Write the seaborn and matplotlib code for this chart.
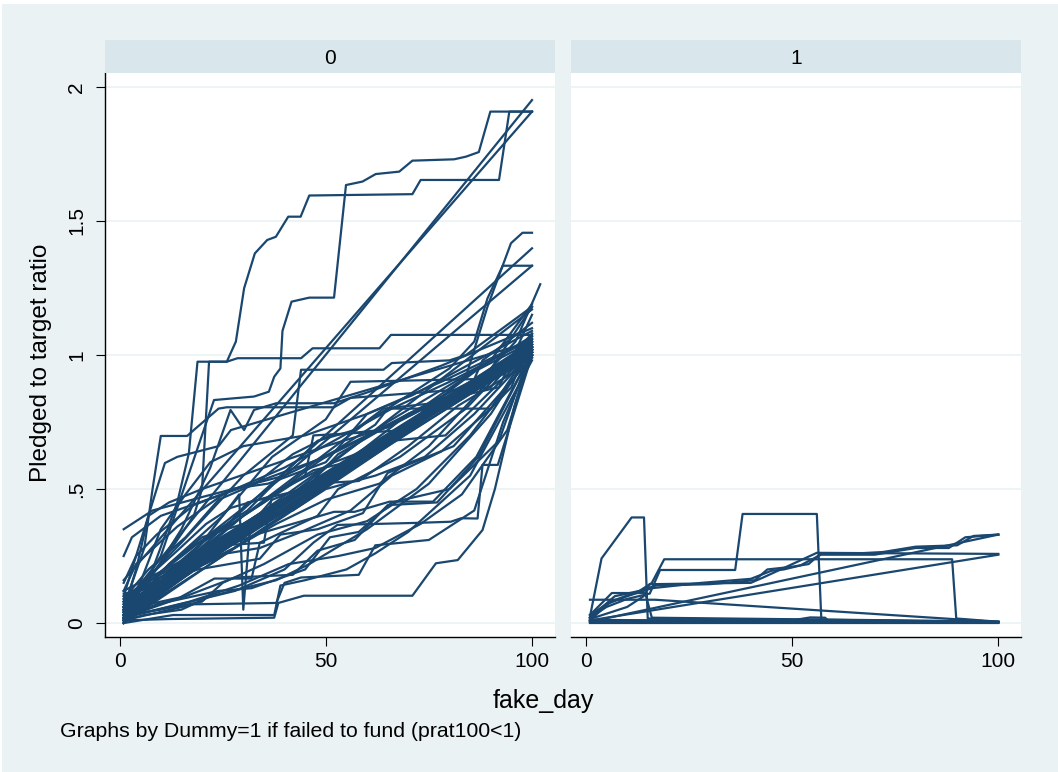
import seaborn as sns
import pandas as pd
import matplotlib.pyplot as plt
from matplotlib.patches import Rectangle

# pledged-to-target ratio paths as (fake_day, ratio)
funded_band = [
    ([1, 25, 50, 75, 100], [0.03, 0.27, 0.52, 0.77, 1.02]),
    ([1, 20, 45, 70, 100], [0.05, 0.25, 0.49, 0.74, 1.03]),
    ([1, 30, 60, 100], [0.02, 0.32, 0.63, 1.01]),
    ([1, 15, 40, 65, 90, 100], [0.06, 0.21, 0.45, 0.70, 0.94, 1.04]),
    ([1, 35, 55, 80, 100], [0.04, 0.38, 0.57, 0.82, 1.00]),
    ([1, 10, 33, 58, 84, 100], [0.08, 0.17, 0.39, 0.63, 0.88, 1.03]),
    ([1, 22, 48, 73, 100], [0.01, 0.24, 0.50, 0.75, 1.01]),
    ([1, 28, 52, 78, 100], [0.07, 0.33, 0.56, 0.80, 1.04]),
    ([1, 18, 42, 68, 92, 100], [0.03, 0.21, 0.44, 0.70, 0.94, 1.02]),
    ([1, 38, 62, 100], [0.05, 0.41, 0.65, 1.02]),
    ([1, 12, 36, 61, 86, 100], [0.10, 0.20, 0.42, 0.66, 0.90, 1.05]),
    ([1, 26, 51, 76, 100], [0.02, 0.28, 0.52, 0.78, 0.99]),
    ([1, 16, 44, 71, 100], [0.12, 0.24, 0.50, 0.76, 1.03]),
    ([1, 32, 57, 83, 100], [0.04, 0.35, 0.59, 0.85, 1.01]),
    ([1, 21, 47, 74, 100], [0.09, 0.27, 0.52, 0.78, 1.04]),
    ([1, 40, 66, 100], [0.01, 0.40, 0.67, 1.00]),
    ([1, 14, 39, 64, 89, 100], [0.06, 0.19, 0.43, 0.68, 0.92, 1.03]),
    ([1, 24, 49, 100], [0.03, 0.29, 0.54, 1.02]),
    ([1, 30, 54, 79, 100], [0.08, 0.37, 0.60, 0.84, 1.05]),
    ([1, 19, 43, 69, 100], [0.02, 0.22, 0.46, 0.72, 1.00]),
    ([1, 27, 53, 77, 100], [0.05, 0.31, 0.55, 0.79, 1.01]),
    ([1, 11, 37, 63, 88, 100], [0.04, 0.15, 0.40, 0.66, 0.91, 1.02]),
    ([1, 34, 58, 100], [0.06, 0.39, 0.62, 1.03]),
    ([1, 23, 46, 72, 100], [0.00, 0.23, 0.47, 0.73, 1.00]),
]

funded_steps = [
    ([1, 8, 14, 16.8, 18.9, 26, 28.6, 44, 46.8, 63, 65.8, 100],
     [0.02, 0.20, 0.45, 0.633, 0.975, 0.975, 0.988, 0.988, 1.025, 1.025, 1.075, 1.075]),
    ([1, 6, 8, 10, 16.4, 18, 24, 26, 52, 56, 90, 100],
     [0.06, 0.28, 0.50, 0.698, 0.698, 0.72, 0.80, 0.805, 0.805, 0.84, 0.88, 1.07]),
    ([1, 8, 15, 22, 26.9, 30.2, 32.6, 38, 52, 60, 78, 100],
     [0.04, 0.18, 0.35, 0.58, 0.795, 0.72, 0.795, 0.82, 0.82, 0.86, 0.96, 1.10]),
    ([1, 10, 20, 29, 30, 31.5, 40, 55, 70, 100],
     [0.03, 0.15, 0.30, 0.48, 0.05, 0.33, 0.45, 0.60, 0.75, 1.00]),
    ([1, 8, 20, 40, 60, 100], [0.35, 0.42, 0.47, 0.55, 0.70, 1.02]),
    ([1, 3, 10, 25, 50, 100], [0.25, 0.32, 0.40, 0.48, 0.62, 1.00]),
    ([1, 12, 37.5, 38.5, 44.7, 71, 76.7, 82, 88, 91, 95.7, 100],
     [0.01, 0.015, 0.02, 0.075, 0.102, 0.102, 0.223, 0.235, 0.347, 0.50, 0.807, 1.02]),
    ([1, 12, 28, 40, 47, 52.8, 72.6, 80.3, 82.8, 86.8, 88, 91.7, 100],
     [0.02, 0.06, 0.12, 0.20, 0.30, 0.366, 0.374, 0.378, 0.391, 0.39, 0.59, 0.59, 1.00]),
    ([1, 13, 37.5, 39, 45, 55, 62, 70, 85, 100],
     [0.00, 0.03, 0.03, 0.14, 0.16, 0.20, 0.26, 0.34, 0.55, 0.98]),
    ([1, 18, 38, 40, 44, 58, 62, 75, 86, 93, 100],
     [0.01, 0.07, 0.075, 0.15, 0.17, 0.18, 0.29, 0.31, 0.42, 0.75, 1.00]),
    ([1, 9, 24, 32, 45, 51, 58, 66, 80, 92, 100],
     [0.02, 0.07, 0.12, 0.13, 0.20, 0.32, 0.34, 0.45, 0.50, 0.68, 1.03]),
    ([1, 16, 28, 42, 48, 57, 65, 77, 87, 100],
     [0.05, 0.10, 0.17, 0.18, 0.27, 0.31, 0.44, 0.45, 0.62, 1.01]),
    ([1, 15, 30, 42, 44, 64, 66, 80, 84, 100],
     [0.08, 0.30, 0.55, 0.70, 0.945, 0.945, 0.97, 0.98, 1.00, 1.18]),
    ([1, 12, 25, 37, 50, 56, 86, 88, 100],
     [0.03, 0.22, 0.40, 0.62, 0.76, 0.90, 0.91, 0.98, 1.12]),
    ([1, 20, 35, 48, 62, 65, 90, 95, 100],
     [0.05, 0.30, 0.45, 0.60, 0.74, 0.80, 0.80, 0.88, 1.08]),
    ([1, 30, 45, 47, 70, 75, 92, 100],
     [0.02, 0.40, 0.55, 0.70, 0.72, 0.82, 0.88, 1.15]),
    ([1, 5, 9, 11, 14, 24, 27, 100],
     [0.10, 0.30, 0.50, 0.597, 0.62, 0.66, 0.72, 1.05]),
    ([1, 7, 20, 33, 52, 57, 65.5, 76, 86.5, 100],
     [0.04, 0.12, 0.25, 0.33, 0.415, 0.415, 0.453, 0.453, 0.62, 1.01]),
    ([1, 14, 23, 32, 34, 48, 53, 68, 84, 100],
     [0.02, 0.09, 0.166, 0.166, 0.30, 0.40, 0.50, 0.62, 0.80, 1.06]),
    ([1, 4, 14, 27, 36, 50, 60, 71, 83, 100],
     [0.12, 0.22, 0.36, 0.50, 0.52, 0.60, 0.78, 0.85, 0.95, 1.09]),
    ([1, 6, 15, 22, 30, 38, 46, 60, 75, 90, 100],
     [0.01, 0.03, 0.05, 0.10, 0.13, 0.16, 0.22, 0.35, 0.52, 0.78, 1.02]),
    ([1, 10, 20, 25, 35, 48, 60, 72, 85, 100],
     [0.03, 0.05, 0.08, 0.15, 0.22, 0.33, 0.38, 0.50, 0.70, 1.00]),
    ([1, 8, 18, 26, 34, 44, 56, 66, 78, 90, 100],
     [0.05, 0.12, 0.20, 0.26, 0.28, 0.34, 0.42, 0.55, 0.64, 0.80, 1.03]),
    ([1, 5, 12, 20, 32, 42, 50, 62, 74, 86, 100],
     [0.02, 0.10, 0.22, 0.32, 0.38, 0.42, 0.50, 0.55, 0.62, 0.78, 1.01]),
    ([1, 9, 17, 26, 31, 45, 53, 61, 70, 82, 100],
     [0.07, 0.18, 0.28, 0.36, 0.45, 0.50, 0.63, 0.70, 0.78, 0.86, 1.04]),
    ([1, 4, 9, 18, 28, 40, 52, 66, 80, 100],
     [0.15, 0.25, 0.33, 0.44, 0.50, 0.58, 0.68, 0.80, 0.90, 1.06]),
    ([1, 13, 22, 31, 40, 48, 57, 64, 76, 88, 100],
     [0.04, 0.18, 0.33, 0.42, 0.56, 0.68, 0.72, 0.80, 0.82, 0.96, 1.07]),
    ([1, 7, 16, 24, 33, 42, 51, 63, 73, 85, 100],
     [0.09, 0.20, 0.32, 0.46, 0.52, 0.63, 0.70, 0.72, 0.80, 0.93, 1.05]),
    ([1, 3, 11, 19, 34, 39, 48, 59, 65, 81, 100],
     [0.01, 0.06, 0.16, 0.20, 0.24, 0.33, 0.35, 0.41, 0.56, 0.66, 0.99]),
    ([1, 17, 29, 41, 53, 62, 73, 83, 94, 100],
     [0.02, 0.08, 0.14, 0.22, 0.25, 0.28, 0.37, 0.48, 0.72, 1.02]),
    ([1, 6, 14, 21, 27, 36, 47, 58, 69, 81, 92, 100],
     [0.06, 0.16, 0.27, 0.37, 0.43, 0.47, 0.57, 0.61, 0.73, 0.83, 0.92, 1.04]),
    ([1, 11, 20, 29, 38, 50, 63, 75, 87, 100],
     [0.11, 0.14, 0.22, 0.29, 0.37, 0.46, 0.52, 0.66, 0.86, 1.08]),
    ([1, 25, 35, 37, 52, 66, 79, 91, 100],
     [0.01, 0.29, 0.30, 0.48, 0.60, 0.68, 0.70, 0.88, 1.02]),
    ([1, 9, 19, 28, 37, 47, 58, 70, 82, 95, 100],
     [0.00, 0.13, 0.25, 0.30, 0.46, 0.52, 0.53, 0.66, 0.81, 0.93, 1.01]),
    ([1, 4, 7, 12, 20, 35, 50, 65, 80, 100],
     [0.05, 0.20, 0.40, 0.45, 0.50, 0.58, 0.66, 0.73, 0.85, 1.03]),
    ([1, 5, 10, 16, 22, 30, 45, 60, 78, 100],
     [0.02, 0.15, 0.35, 0.48, 0.60, 0.66, 0.70, 0.78, 0.90, 1.06]),
]

funded_outliers = [
    ([1, 10, 18, 20, 21.7, 26, 28.2, 30.2, 32.8, 35.8, 37.9, 40.9, 43.9, 46, 71, 73, 92, 94.5, 100],
     [0.05, 0.22, 0.40, 0.50, 0.975, 0.975, 1.05, 1.249, 1.379, 1.429, 1.441, 1.516, 1.516,
      1.595, 1.60, 1.653, 1.653, 1.908, 1.908]),
    ([1, 10, 22.9, 32.6, 36.2, 37.5, 39, 39.5, 41.7, 46, 52, 54.9, 58.9, 62.1, 67.8, 71,
      81.1, 84, 87.1, 89.9, 100],
     [0.03, 0.25, 0.832, 0.845, 0.863, 0.919, 0.95, 1.09, 1.199, 1.214, 1.214, 1.634, 1.647,
      1.675, 1.684, 1.725, 1.73, 1.74, 1.757, 1.908, 1.908]),
    ([1, 100], [0.07, 1.951]),
    ([1, 100], [0.16, 1.908]),
    ([1, 20, 40, 60, 75, 84, 89.2, 94.9, 97.7, 100],
     [0.04, 0.25, 0.45, 0.65, 0.80, 0.92, 1.18, 1.417, 1.456, 1.456]),
    ([1, 100], [0.02, 1.398]),
    ([1, 30, 60, 80, 86, 89.2, 92.9, 100], [0.05, 0.40, 0.75, 0.95, 1.05, 1.211, 1.333, 1.333]),
    ([1, 40, 100], [0.08, 0.55, 1.333]),
    ([1, 50, 90, 96, 102], [0.03, 0.55, 0.95, 1.05, 1.264]),
    ([1, 35, 65, 90, 100], [0.06, 0.42, 0.75, 0.98, 1.19]),
    ([1, 100], [0.00, 1.17]),
    ([1, 45, 70, 88, 100], [0.02, 0.48, 0.78, 0.90, 1.18]),
]

failed_lines = [
    ([1, 3.8, 11.1, 14.1, 15, 100], [0.024, 0.241, 0.394, 0.394, 0.017, 0.004]),
    ([1, 5, 10, 15.5, 18, 36.2, 38, 56, 57.1, 100],
     [0.02, 0.06, 0.09, 0.11, 0.198, 0.198, 0.407, 0.407, 0.011, 0.003]),
    ([1, 6, 13, 16, 19, 88.8, 89.8, 100], [0.01, 0.08, 0.12, 0.15, 0.238, 0.238, 0.017, 0.005]),
    ([1, 4, 7, 13, 17, 30, 41, 44, 50, 54, 57, 66, 72, 80, 90, 94, 100],
     [0.02, 0.06, 0.10, 0.12, 0.14, 0.145, 0.16, 0.20, 0.21, 0.22, 0.26, 0.26, 0.265,
      0.285, 0.29, 0.325, 0.33]),
    ([1, 5, 10, 16, 28, 40, 45, 48, 52, 57, 70, 80, 88, 92, 100],
     [0.03, 0.07, 0.10, 0.13, 0.15, 0.165, 0.195, 0.20, 0.215, 0.255, 0.255, 0.28, 0.28,
      0.32, 0.33]),
    ([1, 100], [0.01, 0.255]),
    ([1, 100], [0.005, 0.33]),
    ([1, 16.8, 100], [0.087, 0.087, 0.004]),
    ([1, 10, 14, 15.5, 40, 43, 56, 100], [0.015, 0.06, 0.10, 0.145, 0.15, 0.17, 0.262, 0.258]),
    ([1, 6.3, 14.4, 16, 100], [0.03, 0.112, 0.112, 0.02, 0.006]),
    ([1, 50, 54.4, 58, 59, 100], [0.004, 0.01, 0.021, 0.02, 0.006, 0.002]),
    ([1, 100], [0.0, 0.0]),
    ([1, 30, 100], [0.002, 0.006, 0.004]),
    ([1, 20, 60, 100], [0.008, 0.01, 0.012, 0.003]),
    ([1, 100], [0.012, 0.001]),
]

y_ticks = [0, 0.5, 1, 1.5, 2]
y_ticklabels = ["0", ".5", "1", "1.5", "2"]
x_ticks = [0, 50, 100]

navy = "#1a476f"
bg = "#EAF2F3"
strip = "#D9E6EB"

plt.rcParams['font.family'] = ['Liberation Sans', 'DejaVu Sans']

rows = []
pid = 0
for group, failed in [(funded_band, 0), (funded_steps, 0), (funded_outliers, 0), (failed_lines, 1)]:
    for days, ratios in group:
        for d, r in zip(days, ratios):
            rows.append({"project": pid, "fake_day": d, "ratio": r, "failed": failed})
        pid += 1
df = pd.DataFrame(rows)

W, H = 1058, 772
fig = plt.figure(figsize=(W / 100, H / 100), dpi=100, facecolor="white")
fig.patches.append(Rectangle((2 / W, 0), 1, 1 - 4 / H, transform=fig.transFigure,
                             facecolor=bg, edgecolor="none", zorder=-10))

for i, left in enumerate([104.7, 571]):
    ax = fig.add_axes([left / W, 135 / H, 450 / W, 564 / H])
    hd = fig.add_axes([left / W, 1 - 73 / H, 450 / W, 33 / H])
    hd.set_facecolor(strip)
    hd.set_xticks([])
    hd.set_yticks([])
    for s in hd.spines.values():
        s.set_visible(False)
    hd.text(0.5, 0.27, str(i), ha="center", va="baseline", fontsize=15, transform=hd.transAxes)

    sub = df[df["failed"] == i]
    sns.lineplot(data=sub, x="fake_day", y="ratio", units="project", estimator=None,
                 sort=False, color=navy, lw=1.6, ax=ax, legend=False)
    ax.set_facecolor("white")
    ax.set_xlim(-3.6, 105.5)
    ax.set_ylim(-0.052, 2.052)
    ax.set_xticks(x_ticks)
    ax.set_xticklabels([str(t) for t in x_ticks])
    ax.set_yticks(y_ticks)
    ax.set_xlabel("")
    ax.set_ylabel("")
    ax.grid(axis="y", color=bg, lw=1.2)
    ax.set_axisbelow(True)
    for s in ["top", "right"]:
        ax.spines[s].set_visible(False)
    ax.spines["bottom"].set_linewidth(1.0)
    ax.spines["left"].set_linewidth(1.0)
    ax.tick_params(axis="x", length=6.5, width=0.8, pad=4, labelsize=15)
    if i == 0:
        ax.set_yticklabels(y_ticklabels)
        ax.tick_params(axis="y", length=6.5, width=0.8, pad=7, labelsize=15, labelrotation=90)
        for lab in ax.get_yticklabels():
            lab.set_va("center")
    else:
        ax.spines["left"].set_visible(False)
        ax.tick_params(axis="y", length=0, labelleft=False)

fig.text(46.7 / W, 1 - 362.5 / H, "Pledged to target ratio", rotation=90, rotation_mode="anchor",
         ha="center", va="baseline", fontsize=17.5)
fig.text(543 / W, 1 - 708 / H, "fake_day", ha="center", va="baseline", fontsize=18)
fig.text(60 / W, 1 - 736.7 / H, "Graphs by Dummy=1 if failed to fund (prat100<1)",
         ha="left", va="baseline", fontsize=15.3)

fig.savefig("out.png", dpi=100, facecolor=fig.get_facecolor())
